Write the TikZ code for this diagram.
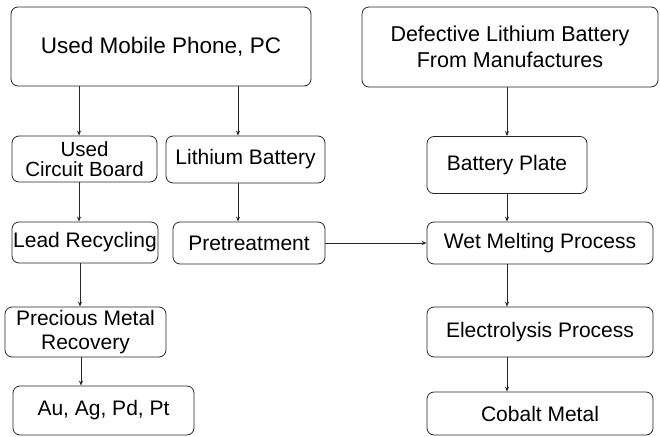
\documentclass[tikz,border=0pt]{standalone}
\usepackage{fontspec}
\setmainfont{Liberation Sans}
\usetikzlibrary{arrows.meta}
\begin{document}
\begin{tikzpicture}[x=1pt,y=-1pt,
  box/.style={draw=black!85, line width=0.8pt, rounded corners=7pt, inner sep=0pt, align=center, font=\fontsize{21}{25}\selectfont},
  arr/.style={draw=black!85, line width=0.8pt, -{Stealth[length=5pt,width=4pt]}}]
\useasboundingbox (0,0) rectangle (660,436);
\node[box, minimum width=300pt, minimum height=79pt, font=\fontsize{22.5}{26}\selectfont] (phone) at (161,46.5) {Used Mobile Phone, PC};
\node[box, minimum width=296pt, minimum height=80pt, font=\fontsize{21.5}{26}\selectfont] (def) at (510,47) {Defective Lithium Battery\\From Manufactures};
\node[box, minimum width=145pt, minimum height=46pt, font=\fontsize{20.5}{20}\selectfont] (ucb) at (84.5,159) {Used\\Circuit Board};
\node[box, minimum width=159pt, minimum height=47pt] (lib) at (245.5,159.5) {Lithium Battery};
\node[box, minimum width=160pt, minimum height=57pt] (bp) at (507,165) {Battery Plate};
\node[box, minimum width=146pt, minimum height=41pt] (lead) at (85,242.5) {Lead Recycling};
\node[box, minimum width=152pt, minimum height=42pt] (pre) at (249,243) {Pretreatment};
\node[box, minimum width=226pt, minimum height=42pt] (wet) at (540,243) {Wet Melting Process};
\node[box, minimum width=161pt, minimum height=50pt, font=\fontsize{21}{24}\selectfont] (pmr) at (85.5,332) {Precious Metal\\Recovery};
\node[box, minimum width=181pt, minimum height=49pt] (au) at (103.5,410.5) {Au, Ag, Pd, Pt};
\node[box, minimum width=226pt, minimum height=50pt] (elec) at (540,332) {Electrolysis Process};
\node[box, minimum width=226pt, minimum height=43pt] (cob) at (540,413.5) {Cobalt Metal};
\draw[arr] ([xshift=-5.5pt]ucb.north |- phone.south) -- ([xshift=-5.5pt]ucb.north);
\draw[arr] ([xshift=-7.5pt]lib.north |- phone.south) -- ([xshift=-7.5pt]lib.north);
\draw[arr] (bp.north |- def.south) -- (bp.north);
\draw[arr] ([xshift=-5.5pt]ucb.south) -- ([xshift=-5.5pt]ucb.south |- lead.north);
\draw[arr] ([xshift=-7.5pt]lib.south) -- ([xshift=-7.5pt]lib.south |- pre.north);
\draw[arr] (bp.south) -- (bp.south |- wet.north);
\draw[arr] ([xshift=-5pt]lead.south) -- ([xshift=-5pt]lead.south |- pmr.north);
\draw[arr] ([xshift=-4.5pt]pmr.south) -- ([xshift=-4.5pt]pmr.south |- au.north);
\draw[arr] (pre.east) -- (wet.west);
\draw[arr] (bp.south |- wet.south) -- (bp.south |- elec.north);
\draw[arr] (bp.south |- elec.south) -- (bp.south |- cob.north);
\end{tikzpicture}
\end{document}
